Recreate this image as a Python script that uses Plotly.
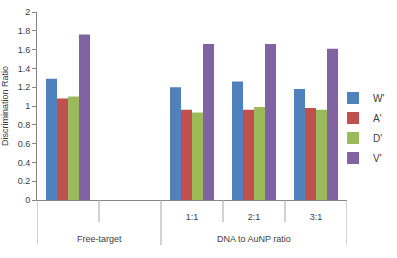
import plotly.graph_objects as go

categories = [" ", "  ", "1:1", "2:1", "3:1"]
groups = ["Free-target", "DNA to AuNP ratio"]
group_spans = [(0, 1), (2, 4)]
series = ["W'", "A'", "D'", "V'"]
W = [1.29, None, 1.20, 1.26, 1.18]
A = [1.08, None, 0.96, 0.96, 0.98]
D = [1.10, None, 0.93, 0.99, 0.96]
V = [1.76, None, 1.66, 1.66, 1.61]
values = [W, A, D, V]
colors = ["#4F81BD", "#C0504D", "#9BBB59", "#8064A2"]

fig = go.Figure()
for name, vals, c in zip(series, values, colors):
    fig.add_trace(go.Bar(x=categories, y=vals, name=name, marker_color=c,
                         marker_line_width=0, legendgroup=name))

line_col = "#A6A6A6"
text_col = "#404040"
# category boundaries: short inner ticks and long group dividers
n = len(categories)
group_edges = set()
for a, b in group_spans:
    group_edges.add(a - 0.5)
    group_edges.add(b + 0.5)
for k in range(n + 1):
    xb = k - 0.5
    y1 = -0.24 if xb in group_edges else -0.117
    fig.add_shape(type="line", xref="x", yref="paper", x0=xb, x1=xb, y0=0, y1=y1,
                  line=dict(color=line_col, width=1))
for g, (a, b) in zip(groups, group_spans):
    fig.add_annotation(text=g, xref="x", yref="paper", x=(a + b) / 2, y=-0.207,
                       yanchor="middle", showarrow=False,
                       font=dict(family="Liberation Sans, Arial", size=9, color=text_col))

fig.update_layout(
    width=397, height=258,
    margin=dict(l=37, r=50, t=12, b=58, autoexpand=False),
    paper_bgcolor="white", plot_bgcolor="white",
    barmode="group", bargap=0.29, bargroupgap=0,
    font=dict(family="Liberation Sans, Arial", size=9, color=text_col),
    showlegend=True,
    legend=dict(x=0.955, xanchor="left", y=0.62, yanchor="top",
                bgcolor="rgba(0,0,0,0)",
                font=dict(family="Liberation Sans, Arial", size=10, color=text_col),
                tracegroupgap=1, itemwidth=30),
    xaxis=dict(type="category", showline=True, linecolor="#868686", linewidth=1,
               ticks="", ticklabelstandoff=8, range=[-0.5, n - 0.5],
               tickfont=dict(size=9, color=text_col), automargin=False),
    yaxis=dict(range=[0, 2], dtick=0.2, showline=True, linecolor="#868686", linewidth=1,
               ticks="outside", ticklen=4, tickcolor="#868686", showgrid=False,
               zeroline=False, tickformat="~g", automargin=False,
               title=dict(text="Discrimination Ratio", standoff=13,
                          font=dict(size=9, color=text_col))),
)
fig.write_html("out.html")
